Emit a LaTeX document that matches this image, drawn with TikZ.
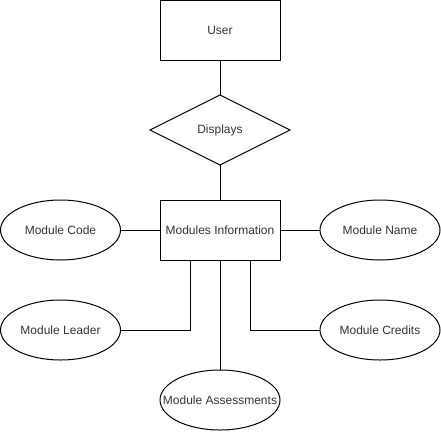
\documentclass[tikz,border=0pt]{standalone}
\usepackage{fontspec}
\setmainfont{Liberation Sans}
\usetikzlibrary{shapes.geometric}
\begin{document}
\begin{tikzpicture}[x=1pt,y=-1pt,line width=1pt,
  every node/.style={font=\fontsize{12}{14}\selectfont, text=black!80, inner sep=0pt, outer sep=0pt},
  entity/.style={draw, minimum width=120pt, minimum height=60pt},
  attr/.style={draw, ellipse, minimum width=120pt, minimum height=60pt},
  rel/.style={draw, diamond, minimum width=140pt, minimum height=70pt}]
\useasboundingbox (0,0) rectangle (441,431);
\node[entity] (user) at (220,30) {User};
\node[rel] (disp) at (220,130) {Displays};
\node[entity] (mi) at (220,230) {Modules Information};
\node[attr] (code) at (60.5,230) {Module Code};
\node[attr] (name) at (380,230) {Module Name};
\node[attr] (leader) at (60.5,330) {Module Leader};
\node[attr] (credits) at (380,330) {Module Credits};
\node[attr] (assess) at (220,400) {\makebox[0pt]{Module Assessments}};
\coordinate (mil) at (190,260);
\coordinate (mir) at (250,260);
\draw (user) -- (disp);
\draw (disp) -- (mi);
\draw (mi) -- (code);
\draw (mi) -- (name);
\draw (mi) -- (assess);
\draw (mil) |- (leader);
\draw (mir) |- (credits);
\end{tikzpicture}
\end{document}
